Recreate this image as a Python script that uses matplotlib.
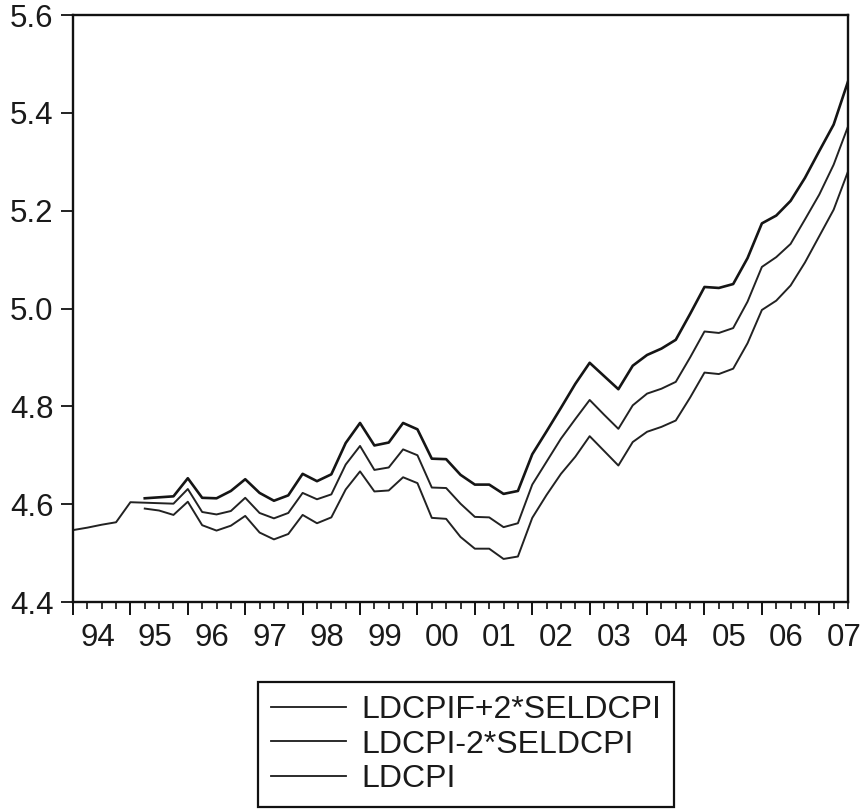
import numpy as np
import matplotlib
matplotlib.use('Agg')
import matplotlib.pyplot as plt

plt.rcParams['font.family'] = ['Liberation Sans', 'DejaVu Sans']

# quarterly data, 1994Q1 .. 2007Q3
year_labels = ['94', '95', '96', '97', '98', '99', '00', '01', '02', '03', '04', '05', '06', '07']

ldcpi = [4.547, 4.552, 4.558, 4.563, 4.604, 4.603, 4.602, 4.601, 4.631, 4.584,
         4.579, 4.586, 4.613, 4.582, 4.571, 4.582, 4.623, 4.610, 4.620, 4.681,
         4.719, 4.670, 4.675, 4.712, 4.700, 4.634, 4.633, 4.601, 4.574, 4.573,
         4.553, 4.561, 4.640, 4.687, 4.734, 4.774, 4.813, 4.783, 4.754, 4.802,
         4.826, 4.836, 4.850, 4.900, 4.953, 4.950, 4.960, 5.014, 5.085, 5.105,
         5.132, 5.182, 5.233, 5.294, 5.372]

# bands start in 1995Q2
band_start = 5
upper = [4.612, 4.614, 4.616, 4.653, 4.613, 4.612, 4.627, 4.651, 4.623, 4.607,
         4.618, 4.662, 4.647, 4.661, 4.725, 4.766, 4.720, 4.726, 4.766, 4.753,
         4.693, 4.692, 4.660, 4.640, 4.640, 4.621, 4.627, 4.702, 4.749, 4.797,
         4.846, 4.889, 4.862, 4.835, 4.883, 4.905, 4.918, 4.936, 4.989, 5.044,
         5.042, 5.050, 5.103, 5.174, 5.190, 5.220, 5.267, 5.322, 5.376, 5.464]
lower = [4.591, 4.587, 4.578, 4.605, 4.557, 4.546, 4.556, 4.576, 4.542, 4.528,
         4.539, 4.578, 4.561, 4.573, 4.630, 4.667, 4.626, 4.628, 4.655, 4.643,
         4.572, 4.570, 4.533, 4.509, 4.509, 4.488, 4.493, 4.572, 4.619, 4.662,
         4.697, 4.739, 4.709, 4.679, 4.727, 4.748, 4.758, 4.771, 4.818, 4.869,
         4.866, 4.877, 4.929, 4.997, 5.016, 5.047, 5.094, 5.148, 5.202, 5.280]

x = np.arange(len(ldcpi))
xb = np.arange(band_start, band_start + len(upper))

fig = plt.figure(figsize=(8.6, 8.11), dpi=100)
ax = fig.add_axes([73 / 860, 1 - 602 / 811, 775 / 860, 587 / 811])

ax.plot(xb, upper, color='#151515', lw=1.9, label='LDCPIF+2*SELDCPI')
ax.plot(xb, lower, color='#222222', lw=1.4, label='LDCPI-2*SELDCPI')
ax.plot(x, ldcpi, color='#222222', lw=1.4, label='LDCPI')

ax.set_xlim(0, len(ldcpi) - 1)
ax.set_ylim(4.4, 5.6)
ax.set_yticks(np.arange(4.4, 5.61, 0.2))
ax.set_yticklabels(['%.1f' % v for v in np.arange(4.4, 5.61, 0.2)])

for s in ax.spines.values():
    s.set_linewidth(1.7)
    s.set_color('#111111')

ax.tick_params(axis='y', length=9, width=1.3, pad=5, labelsize=22.5, color='#111111',
               labelcolor='#1a1a1a')

# year / quarter tick marks, labels sit inside each year
ax.set_xticks(np.arange(0, len(ldcpi), 4))
ax.set_xticks(np.arange(0, len(ldcpi)), minor=True)
ax.set_xticklabels([])
ax.tick_params(axis='x', which='major', length=9.5, width=1.4, color='#111111')
ax.tick_params(axis='x', which='minor', length=5, width=1.2, color='#111111')

sec = ax.secondary_xaxis('bottom')
sec.set_xticks(np.arange(0, len(ldcpi), 4) + 1.7)
sec.set_xticklabels(year_labels)
sec.tick_params(axis='x', length=0, pad=15, labelsize=22.5, labelcolor='#1a1a1a')
sec.spines['bottom'].set_visible(False)

leg = fig.legend(loc='upper left', bbox_to_anchor=(258 / 860, 1 - 682 / 811),
                 borderaxespad=0, fontsize=23, frameon=True, fancybox=False,
                 framealpha=1, handlelength=2.35, handletextpad=0.5,
                 labelspacing=0.15, borderpad=0.4)
leg.get_frame().set_edgecolor('#111111')
leg.get_frame().set_linewidth(1.6)
for t in leg.get_texts():
    t.set_color('#1a1a1a')
for h in leg.get_lines():
    h.set_color('#1a1a1a')
    h.set_linewidth(1.3)

fig.savefig('out.png', dpi=100)
